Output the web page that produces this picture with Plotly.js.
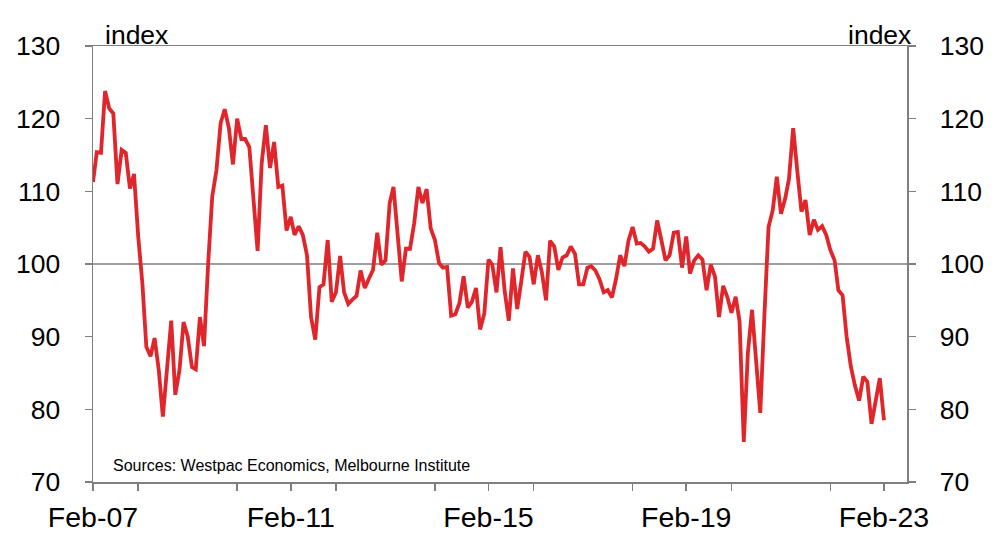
<!DOCTYPE html>
<html><head><meta charset="utf-8">
<script src="https://cdn.plot.ly/plotly-3.0.1.min.js"></script>
<style>html,body{margin:0;padding:0;background:#fff}#c{width:1000px;height:540px}</style>
</head><body><div id="c"></div>
<script>
const startYear = 2007, startMonth = 2;
const v2007 = [111.3,115.4,115.3,123.8,121.4,120.7,111.0,115.7,115.3,110.4,112.4]; // Feb-Dec
const v2008 = [103.8,97.3,88.6,87.3,89.8,85.4,79.0,85.6,92.2,82.0,85.4,92.0];
const v2009 = [90.0,85.8,85.5,92.7,88.7,100.1,109.3,112.9,119.4,121.3,118.7,113.7];
const v2010 = [120.0,117.2,117.2,116.1,108.8,101.8,113.8,119.1,113.2,116.8,110.6,110.8];
const v2011 = [104.6,106.5,104.0,105.2,104.0,101.2,92.7,89.6,96.8,97.2,103.3,94.8];
const v2012 = [96.1,101.1,96.1,94.5,95.1,95.6,99.1,96.7,98.0,99.2,104.3,99.9];
const v2013 = [100.5,108.4,110.6,104.0,97.6,102.1,102.1,105.6,110.6,108.4,110.3,104.9];
const v2014 = [103.3,100.1,99.5,99.6,92.9,93.1,94.6,98.3,94.0,94.8,96.7,91.0];
const v2015 = [93.2,100.6,99.9,96.1,102.3,96.2,92.2,99.4,93.8,97.6,101.7,101.0];
const v2016 = [97.2,101.2,98.9,95.0,103.2,102.4,99.2,100.9,101.2,102.4,101.4,97.2];
const v2017 = [97.2,99.5,99.7,99.1,97.9,96.1,96.4,95.4,98.0,101.2,99.7,103.2];
const v2018 = [105.1,102.8,102.9,102.4,101.7,102.1,106.0,103.3,100.5,101.2,104.3,104.4];
const v2019 = [99.5,103.8,98.7,100.5,101.2,100.6,96.4,99.9,98.3,92.7,97.0,95.5];
const v2020 = [93.3,95.5,92.1,75.5,87.7,93.7,86.1,79.5,93.2,105.1,107.4,112.0];
const v2021 = [106.9,109.0,111.7,118.7,112.9,107.2,108.8,104.0,106.1,104.7,105.2,104.0];
const v2022 = [101.9,100.5,96.4,95.7,90.0,85.9,83.3,81.2,84.5,83.8,78.0,80.8];
const v2023 = [84.3,78.5]; // Jan-Feb
const yTicks = [70,80,90,100,110,120,130];
const xTickLabelFormat = '%b-%y';
const sourceText = 'Sources: Westpac Economics, Melbourne Institute';
const unitText = 'index';

const values = [].concat(v2007,v2008,v2009,v2010,v2011,v2012,v2013,v2014,v2015,v2016,v2017,v2018,v2019,v2020,v2021,v2022,v2023);
const dates = values.map((_, i) => {
  const t = (startMonth - 1) + i;
  const y = startYear + Math.floor(t / 12);
  const m = (t % 12) + 1;
  return y + '-' + String(m).padStart(2, '0') + '-01';
});

const axisColor = '#7f7f7f';
const fontFam = 'Liberation Sans, Arial, sans-serif';

const traces = [
  {x: dates, y: values, type: 'scatter', mode: 'lines',
   line: {color: '#e0252b', width: 3.8}, hoverinfo: 'x+y', showlegend: false},
  {x: dates, y: values, type: 'scatter', mode: 'lines', yaxis: 'y2',
   line: {color: 'rgba(0,0,0,0)', width: 0}, hoverinfo: 'skip', showlegend: false}
];

const layout = {
  width: 1000, height: 540,
  margin: {l: 93, r: 93, t: 46, b: 58, pad: 0},
  paper_bgcolor: '#fff', plot_bgcolor: '#fff',
  font: {family: fontFam, size: 26, color: '#000'},
  showlegend: false,
  xaxis: {
    type: 'date', range: ['2007-02-01', '2023-07-21'],
    tick0: '2007-02-01', dtick: 'M48', tickformat: xTickLabelFormat,
    ticks: 'outside', ticklen: 7, tickwidth: 1.5, tickcolor: axisColor,
    minor: {dtick: 'M24', ticks: 'outside', ticklen: 7, tickwidth: 1.5, tickcolor: axisColor, showgrid: false},
    showline: true, linecolor: axisColor, linewidth: 1.5, mirror: true,
    showgrid: false, zeroline: false, ticklabelstandoff: 2,
    tickfont: {size: 28.5, family: fontFam, color: '#000'}
  },
  yaxis: {
    range: [70, 130], tickvals: yTicks, ticks: 'outside', ticklen: 7, tickwidth: 1.5, tickcolor: axisColor,
    showline: true, linecolor: axisColor, linewidth: 1.5, showgrid: false, zeroline: false,
    ticklabelstandoff: 19, tickfont: {size: 26.5, family: fontFam, color: '#000'}
  },
  yaxis2: {
    range: [70, 130], tickvals: yTicks, overlaying: 'y', side: 'right',
    ticks: 'outside', ticklen: 7, tickwidth: 1.5, tickcolor: axisColor,
    showline: true, linecolor: axisColor, linewidth: 1.5, showgrid: false, zeroline: false,
    ticklabelstandoff: 19, tickfont: {size: 26.5, family: fontFam, color: '#000'}
  },
  shapes: [
    {type: 'line', xref: 'paper', x0: 0, x1: 1, yref: 'y', y0: 100, y1: 100,
     line: {color: axisColor, width: 1.5}, layer: 'below'}
  ],
  annotations: [
    {text: unitText, xref: 'paper', yref: 'paper', x: 0.0165, y: 1.0, xanchor: 'left', yanchor: 'bottom',
     showarrow: false, font: {size: 26.5, family: fontFam, color: '#000'}, yshift: -6, xshift: -3},
    {text: unitText, xref: 'paper', yref: 'paper', x: 1.0, y: 1.0, xanchor: 'right', yanchor: 'bottom',
     showarrow: false, font: {size: 26.5, family: fontFam, color: '#000'}, yshift: -6, xshift: 6},
    {text: sourceText, xref: 'paper', yref: 'paper', x: 0.022, y: 0.0, xanchor: 'left', yanchor: 'bottom',
     showarrow: false, font: {size: 16, family: fontFam, color: '#000'}, yshift: 6}
  ]
};

Plotly.newPlot('c', traces, layout, {displayModeBar: false, staticPlot: true});
</script></body></html>
